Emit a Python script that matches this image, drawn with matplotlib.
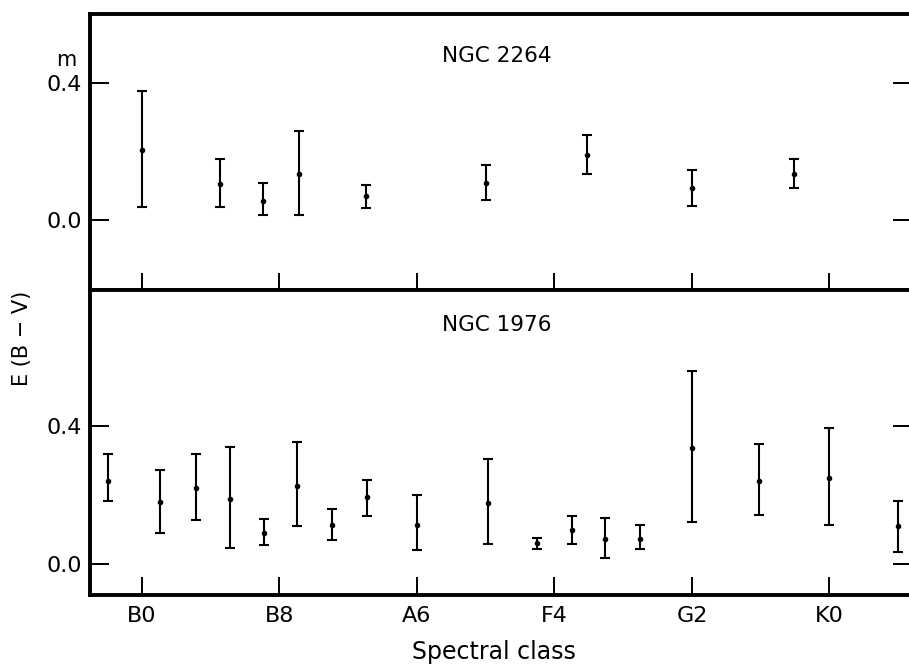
import numpy as np
import matplotlib
matplotlib.use("Agg")
import matplotlib.pyplot as plt

# spectral class axis: B0=0, B8=1, A6=2, F4=3, G2=4, K0=5
tick_pos = [0, 1, 2, 3, 4, 5]
tick_labels = ["B0", "B8", "A6", "F4", "G2", "K0"]

# NGC 2264
x_2264 = [0.00, 0.57, 0.88, 1.14, 1.63, 2.50, 3.24, 4.00, 4.74]
y_2264 = [0.205, 0.104, 0.055, 0.136, 0.070, 0.109, 0.189, 0.093, 0.136]
lo_2264 = [0.039, 0.039, 0.014, 0.015, 0.036, 0.059, 0.134, 0.042, 0.093]
hi_2264 = [0.378, 0.178, 0.107, 0.260, 0.102, 0.161, 0.249, 0.146, 0.179]

# NGC 1976
x_1976 = [-0.245, 0.13, 0.39, 0.64, 0.89, 1.13, 1.38, 1.64, 2.00,
          2.52, 2.87, 3.13, 3.37, 3.62, 4.00, 4.49, 5.00, 5.50]
y_1976 = [0.241, 0.180, 0.221, 0.188, 0.091, 0.226, 0.112, 0.194, 0.114,
          0.178, 0.060, 0.099, 0.072, 0.072, 0.337, 0.240, 0.248, 0.111]
lo_1976 = [0.181, 0.091, 0.128, 0.046, 0.056, 0.111, 0.070, 0.140, 0.041,
           0.057, 0.044, 0.058, 0.017, 0.043, 0.121, 0.142, 0.112, 0.036]
hi_1976 = [0.320, 0.272, 0.318, 0.340, 0.130, 0.354, 0.160, 0.244, 0.201,
           0.305, 0.074, 0.138, 0.132, 0.113, 0.559, 0.348, 0.393, 0.181]

plt.rcParams["font.family"] = ["DejaVu Sans"]

fig = plt.figure(figsize=(9.09, 6.65), dpi=100)
W, H = 909.0, 665.0
left, right = 90/W, 912/W
ax1 = fig.add_axes([left, 1-290/H, right-left, (290-14)/H])
ax2 = fig.add_axes([left, 1-595/H, right-left, (595-290)/H])

def panel(ax, x, y, lo, hi, ylim, title, title_y, xtick_len, show_labels):
    y = np.array(y); lo = np.array(lo); hi = np.array(hi)
    ax.errorbar(x, y, yerr=[y-lo, hi-y], fmt="o", color="k", ms=3,
                elinewidth=1.5, capsize=3.5, capthick=1.5)
    ax.set_xlim(-0.378, 5.6)
    ax.set_ylim(*ylim)
    ax.set_yticks([0.0, 0.4])
    ax.set_yticklabels(["0.0", "0.4"], fontsize=16)
    ax.tick_params(axis="y", direction="in", left=True, right=True,
                   length=14, width=1.4, pad=6)
    ax.set_xticks(tick_pos)
    ax.tick_params(axis="x", direction="in", bottom=True, top=False,
                   length=xtick_len, width=1.4, pad=8)
    if show_labels:
        ax.set_xticklabels(tick_labels, fontsize=16)
    else:
        ax.set_xticklabels([])
    for s in ["left", "top", "bottom", "right"]:
        ax.spines[s].set_linewidth(2.8)
    ax.text(2.58, title_y, title, fontsize=15.5, ha="center", va="center")

panel(ax1, x_2264, y_2264, lo_2264, hi_2264, (-0.205, 0.603),
      "NGC 2264", 0.48, 12, False)
panel(ax2, x_1976, y_1976, lo_1976, hi_1976, (-0.090, 0.794),
      "NGC 1976", 0.693, 13, True)

ax1.text(-0.553, 0.468, "m", fontsize=15, ha="center", va="center",
         clip_on=False)
fig.text(22/W, 1-338/H, "E (B \u2212 V)", rotation=90, fontsize=15,
         ha="center", va="center")
fig.text(494/W, 1-652/H, "Spectral class", fontsize=17,
         ha="center", va="center")

fig.savefig("out.png", dpi=100)
